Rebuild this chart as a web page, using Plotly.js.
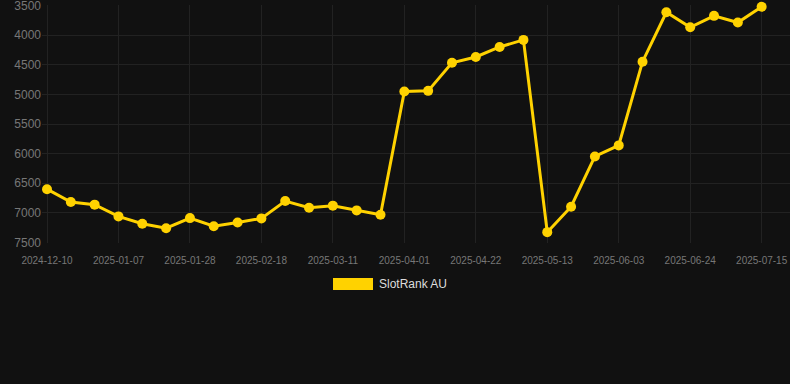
<!DOCTYPE html>
<html>
<head>
<meta charset="utf-8">
<script src="https://cdn.plot.ly/plotly-3.0.1.min.js"></script>
<style>
html,body{margin:0;padding:0;background:#111111;}
#chart{width:790px;height:384px;}
</style>
</head>
<body>
<div id="chart"></div>
<script>
const dates = [
  "2024-12-10","2024-12-17","2024-12-24","2025-01-07","2025-01-14","2025-01-21","2025-01-28",
  "2025-02-04","2025-02-11","2025-02-18","2025-02-25","2025-03-04","2025-03-11","2025-03-18",
  "2025-03-25","2025-04-01","2025-04-08","2025-04-15","2025-04-22","2025-04-29","2025-05-06",
  "2025-05-13","2025-05-20","2025-05-27","2025-06-03","2025-06-10","2025-06-17","2025-06-24",
  "2025-07-01","2025-07-08","2025-07-15"
];
const rank = [
  6600, 6817, 6861, 7059, 7183, 7258, 7088,
  7224, 7161, 7093, 6800, 6912, 6878, 6958,
  7031, 4953, 4941, 4466, 4369, 4200, 4081,
  7325, 6895, 6047, 5861, 4449, 3614, 3868,
  3675, 3788, 3522
];
const tickLabels = ["2024-12-10","2025-01-07","2025-01-28","2025-02-18","2025-03-11","2025-04-01",
  "2025-04-22","2025-05-13","2025-06-03","2025-06-24","2025-07-15"];
const yTicks = [3500,4000,4500,5000,5500,6000,6500,7000,7500];
const seriesName = "SlotRank AU";

const color = "#ffd200";
const trace = {
  x: dates, y: rank, type: "scatter", mode: "lines+markers",
  name: seriesName, showlegend: false, cliponaxis: false,
  line: {color: color, width: 3},
  marker: {color: color, size: 10}
};
const T = 5, B = 141, L = 42;
const plotH = 384 - T - B, plotW = 790 - L;
const layout = {
  width: 790, height: 384,
  paper_bgcolor: "#111111", plot_bgcolor: "#111111",
  margin: {l: L, r: 0, t: T, b: B},
  font: {family: "Liberation Sans, Arial, sans-serif", color: "#777777"},
  showlegend: false,
  xaxis: {
    type: "category", range: [-0.21, 31.19],
    tickmode: "array", tickvals: tickLabels, ticktext: tickLabels,
    tickfont: {size: 10, color: "#777777"},
    ticklabelstandoff: 10, ticklabeloverflow: "allow",
    gridcolor: "#222222", gridwidth: 1, showline: false, zeroline: false,
    ticks: "", ticklen: 0
  },
  yaxis: {
    range: [7508, 3492], tickmode: "array", tickvals: yTicks,
    tickfont: {size: 12, color: "#777777"},
    ticklabeloverflow: "allow",
    gridcolor: "#222222", gridwidth: 1, showline: false, zeroline: false,
    ticks: "", ticklen: 0
  },
  shapes: [{
    type: "rect", xref: "paper", yref: "paper",
    x0: (333-L)/plotW, x1: (373-L)/plotW,
    y0: (T+plotH-290)/plotH, y1: (T+plotH-278)/plotH,
    fillcolor: color, line: {width: 0}
  }],
  annotations: [{
    xref: "paper", yref: "paper", x: (377-L)/plotW, y: (T+plotH-284)/plotH,
    xanchor: "left", yanchor: "middle", showarrow: false,
    text: seriesName, font: {size: 12, color: "#dddddd"}
  }]
};
Plotly.newPlot("chart", [trace], layout, {displayModeBar: false, staticPlot: true});
</script>
</body>
</html>
